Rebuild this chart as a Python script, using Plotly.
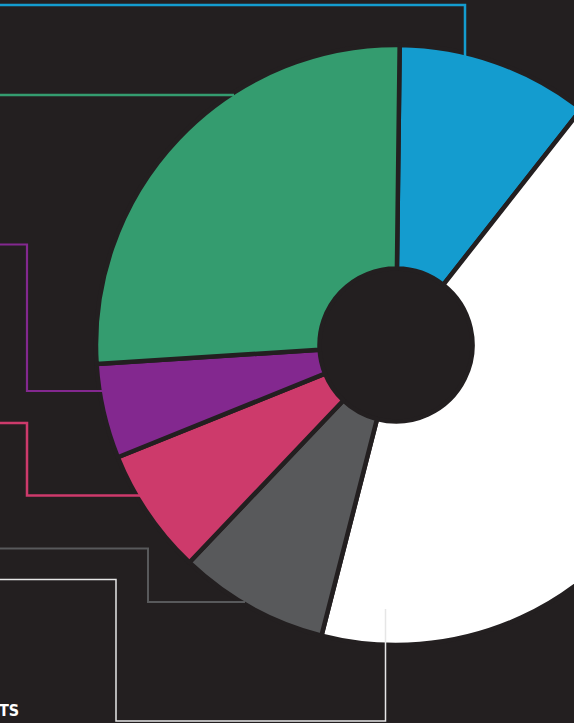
import plotly.graph_objects as go

# ---- data ----
categories = ["Blue", "White", "Gray", "Pink", "Purple", "Green"]
values = [10.4, 43.4, 8.1, 6.8, 5.1, 26.2]
colors = ["#149ccf", "#ffffff", "#58595b", "#cd3a6b", "#83288f", "#349c6f"]
label_text = "TS"

BG = "#231f20"
W, H = 720, 723

def px(x):
    return x / W

def py(y):
    return 1 - y / H

fig = go.Figure(go.Pie(
    labels=categories,
    values=values,
    marker=dict(colors=colors, line=dict(color=BG, width=4.5)),
    hole=0.255,
    sort=False,
    direction="clockwise",
    rotation=0.7,
    textinfo="none",
    hoverinfo="label+percent",
    showlegend=False,
    domain=dict(x=[px(96), px(696)], y=[py(645), py(45)]),
))

def path_shape(points, color, width):
    d = "M " + " L ".join(f"{px(x):.5f},{py(y):.5f}" for x, y in points)
    return dict(type="path", path=d, xref="paper", yref="paper",
                line=dict(color=color, width=width), layer="above")

shapes = [
    path_shape([(-5, 5), (465, 5), (465, 57)], colors[0], 2.5),
    path_shape([(-5, 95), (234, 95)], colors[5], 2.5),
    path_shape([(-5, 244.5), (27, 244.5), (27, 391), (102, 391)], colors[4], 2.2),
    path_shape([(-5, 423), (27, 423), (27, 495.5), (140, 495.5)], colors[3], 2.5),
    path_shape([(-5, 548.5), (148, 548.5), (148, 602), (245, 602)], colors[2], 2.0),
    path_shape([(-5, 579.5), (116, 579.5), (116, 721), (385.5, 721), (385.5, 609)], "#e6e6e6", 1.5),
]

fig.update_layout(
    width=W, height=H,
    margin=dict(l=0, r=0, t=0, b=0),
    paper_bgcolor=BG,
    plot_bgcolor=BG,
    shapes=shapes,
    annotations=[dict(
        text=f"<b>{label_text}</b>", x=px(-3), y=py(722), xref="paper", yref="paper",
        xanchor="left", yanchor="bottom", showarrow=False,
        font=dict(family="DejaVu Sans Condensed, Liberation Sans Narrow, Roboto", size=16, color="#ffffff"),
    )],
)

fig.write_html(
    "out.html",
    post_script="document.body.style.margin='0';document.body.style.overflow='hidden';document.documentElement.style.overflow='hidden';document.body.style.background='#231f20';",
)
